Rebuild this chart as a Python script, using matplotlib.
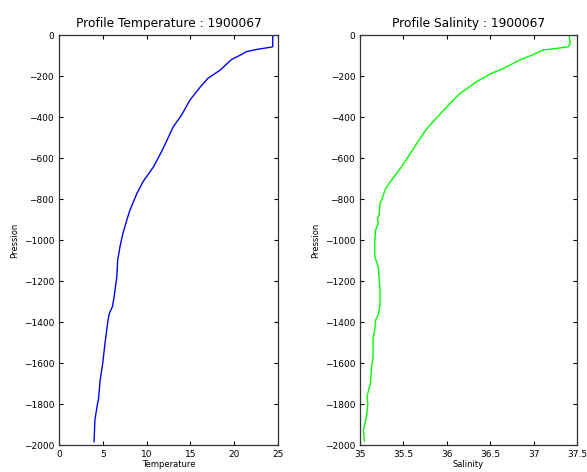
import numpy as np
import matplotlib
matplotlib.use('Agg')
import matplotlib.pyplot as plt

temp = [24.4, 24.4, 24.1, 22.6, 21.4, 20.7, 19.7, 18.4, 17.0, 16.1, 14.95, 14.0, 13.05,
        11.8, 10.8, 9.6, 8.9, 8.1, 7.8, 7.3, 6.96, 6.7, 6.6, 6.3, 6.1, 5.75, 5.6,
        5.25, 4.99, 4.7, 4.5, 4.4, 4.1, 4.0]
pres_temp = [0, -57, -60, -70, -81, -98, -119, -171, -211, -255, -317, -390, -447,
             -561, -642, -715, -772, -854, -894, -967, -1033, -1098, -1179, -1276, -1325,
             -1358, -1390, -1504, -1602, -1683, -1780, -1797, -1878, -1984]

psal = [37.41, 37.42, 37.40, 37.27, 37.11, 36.98, 36.84, 36.65, 36.50, 36.34, 36.21,
        36.15, 36.0, 35.86, 35.79, 35.73, 35.63, 35.48, 35.35, 35.29, 35.25, 35.23,
        35.22, 35.20, 35.21, 35.18, 35.17, 35.17, 35.19, 35.21, 35.22, 35.23, 35.23,
        35.21, 35.18, 35.17, 35.15, 35.15, 35.13, 35.12, 35.08, 35.09, 35.08, 35.07,
        35.04, 35.05]
pres_psal = [0, -41, -57, -65, -73, -98, -122, -163, -190, -228, -268,
             -285, -350, -415, -447, -480, -545, -642, -715, -753, -805, -821,
             -878, -894, -919, -951, -1000, -1081, -1106, -1130, -1179, -1244, -1317,
             -1366, -1390, -1439, -1480, -1569, -1634, -1699, -1764, -1797, -1845, -1870,
             -1927, -1980]

yticks = [0, -200, -400, -600, -800, -1000, -1200, -1400, -1600, -1800, -2000]

fig = plt.figure(figsize=(5.87, 4.72), dpi=100)
ax1 = fig.add_axes([0.1005, 0.0572, 0.3731, 0.8686])
ax2 = fig.add_axes([0.6133, 0.0572, 0.3697, 0.8686])

def style(ax):
    ax.tick_params(direction='in', top=True, right=True, labelsize=6.5, length=3, width=0.8)
    for s in ax.spines.values():
        s.set_linewidth(0.9)
        s.set_color('#333333')
    ax.set_ylim(-2000, 0)
    ax.set_yticks(yticks)
    ax.set_yticklabels([str(v).replace('-', '\u2212') for v in yticks])
    ax.set_ylabel('Pression', fontsize=6, labelpad=3)

ax1.plot(temp, pres_temp, color=(0, 0, 1), lw=1)
ax1.set_xlim(0, 25)
ax1.set_xticks([0, 5, 10, 15, 20, 25])
style(ax1)
ax1.set_xlabel('Temperature', fontsize=6, labelpad=1)
ax1.set_title('Profile Temperature : 1900067', fontsize=8.8, pad=6)

ax2.plot(psal, pres_psal, color=(0, 1, 0), lw=1)
ax2.set_xlim(35, 37.5)
ax2.set_xticks([35, 35.5, 36, 36.5, 37, 37.5])
ax2.set_xticklabels(['35', '35.5', '36', '36.5', '37', '37.5'])
style(ax2)
ax2.set_xlabel('Salinity', fontsize=6, labelpad=1)
ax2.set_title('Profile Salinity : 1900067', fontsize=8.8, pad=6)

fig.savefig('out.png', dpi=100)
